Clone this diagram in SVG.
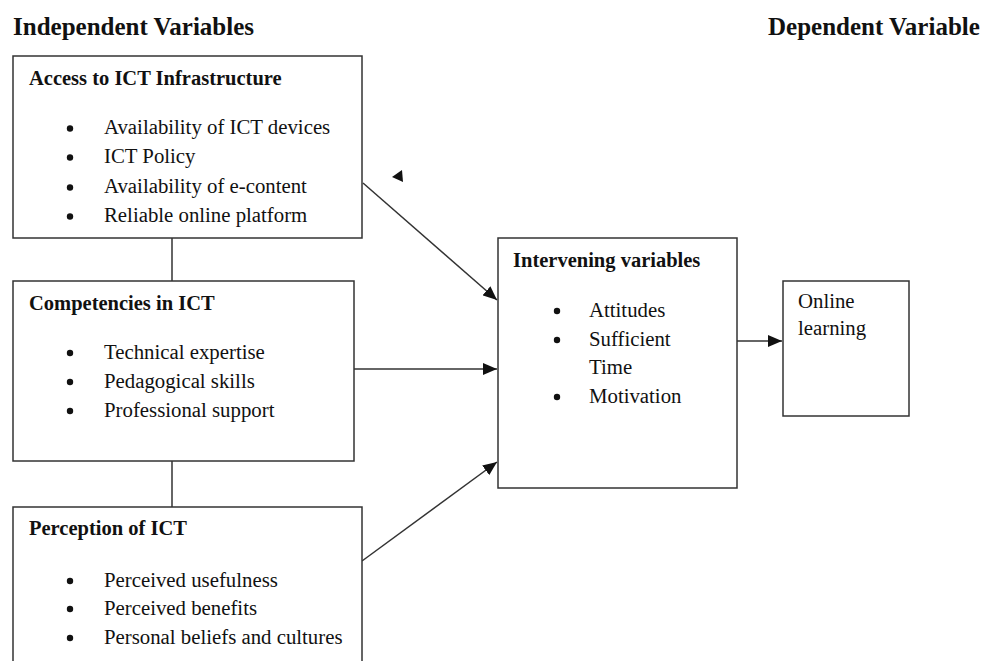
<svg xmlns="http://www.w3.org/2000/svg" width="982" height="661" viewBox="0 0 982 661">
<style>
text{font-family:"Liberation Serif","Times New Roman",serif;fill:#111}
.h{font-size:25px;font-weight:bold}
.t{font-size:20.5px;font-weight:bold}
.b{font-size:20.8px}
.box{fill:#fff;stroke:#333;stroke-width:1.5}
.ln{stroke:#333;stroke-width:1.5;fill:none}
.dot{fill:#111}
</style>
<defs>
<marker id="ah" markerUnits="userSpaceOnUse" markerWidth="14" markerHeight="12" viewBox="0 0 14 12" refX="14" refY="6" orient="auto">
<path d="M0,0 L14,6 L0,12 Z" fill="#111"/>
</marker>
</defs>
<rect width="982" height="661" fill="#fff"/>
<text class="h" x="13" y="35">Independent Variables</text>
<text class="h" x="768" y="35">Dependent Variable</text>

<g id="connectors">
<line class="ln" x1="172" y1="238" x2="172" y2="281"/>
<line class="ln" x1="172" y1="461" x2="172" y2="507"/>
<line class="ln" x1="363" y1="183" x2="497" y2="300" marker-end="url(#ah)"/>
<line class="ln" x1="354" y1="369" x2="497" y2="369" marker-end="url(#ah)"/>
<line class="ln" x1="362" y1="561" x2="497" y2="462" marker-end="url(#ah)"/>
<line class="ln" x1="737" y1="341" x2="782" y2="341" marker-end="url(#ah)"/>
<path d="M392,177 L402,170 L403,182 Z" fill="#111"/>
</g>

<g id="access">
<rect class="box" x="13" y="56" width="349" height="182"/>
<text class="t" x="29" y="85">Access to ICT  Infrastructure</text>
<circle class="dot" cx="70" cy="128.5" r="3.2"/><text class="b" x="104" y="134">Availability of ICT devices</text>
<circle class="dot" cx="70" cy="157.5" r="3.2"/><text class="b" x="104" y="163">ICT Policy</text>
<circle class="dot" cx="70" cy="187.5" r="3.2"/><text class="b" x="104" y="193">Availability of e-content</text>
<circle class="dot" cx="70" cy="216.5" r="3.2"/><text class="b" x="104" y="222">Reliable online platform</text>
</g>

<g id="competencies">
<rect class="box" x="13" y="281" width="341" height="180"/>
<text class="t" x="29" y="310">Competencies in ICT</text>
<circle class="dot" cx="70" cy="353" r="3.2"/><text class="b" x="104" y="359">Technical expertise</text>
<circle class="dot" cx="70" cy="382" r="3.2"/><text class="b" x="104" y="388">Pedagogical skills</text>
<circle class="dot" cx="70" cy="411" r="3.2"/><text class="b" x="104" y="417">Professional support</text>
</g>

<g id="perception">
<rect class="box" x="13" y="507" width="349" height="180"/>
<text class="t" x="29" y="535">Perception of ICT</text>
<circle class="dot" cx="70" cy="581" r="3.2"/><text class="b" x="104" y="587">Perceived usefulness</text>
<circle class="dot" cx="70" cy="609" r="3.2"/><text class="b" x="104" y="615">Perceived benefits</text>
<circle class="dot" cx="70" cy="638" r="3.2"/><text class="b" x="104" y="644">Personal beliefs  and cultures</text>
</g>

<g id="intervening">
<rect class="box" x="498" y="238" width="239" height="250"/>
<text class="t" x="513" y="267">Intervening variables</text>
<circle class="dot" cx="557" cy="311" r="3.2"/><text class="b" x="589" y="317">Attitudes</text>
<circle class="dot" cx="557" cy="340" r="3.2"/><text class="b" x="589" y="346">Sufficient</text>
<text class="b" x="589" y="374">Time</text>
<circle class="dot" cx="557" cy="397" r="3.2"/><text class="b" x="589" y="403">Motivation</text>
</g>

<g id="online">
<rect class="box" x="783" y="281" width="126" height="135"/>
<text class="b" x="798" y="308">Online</text>
<text class="b" x="798" y="335">learning</text>
</g>
</svg>
